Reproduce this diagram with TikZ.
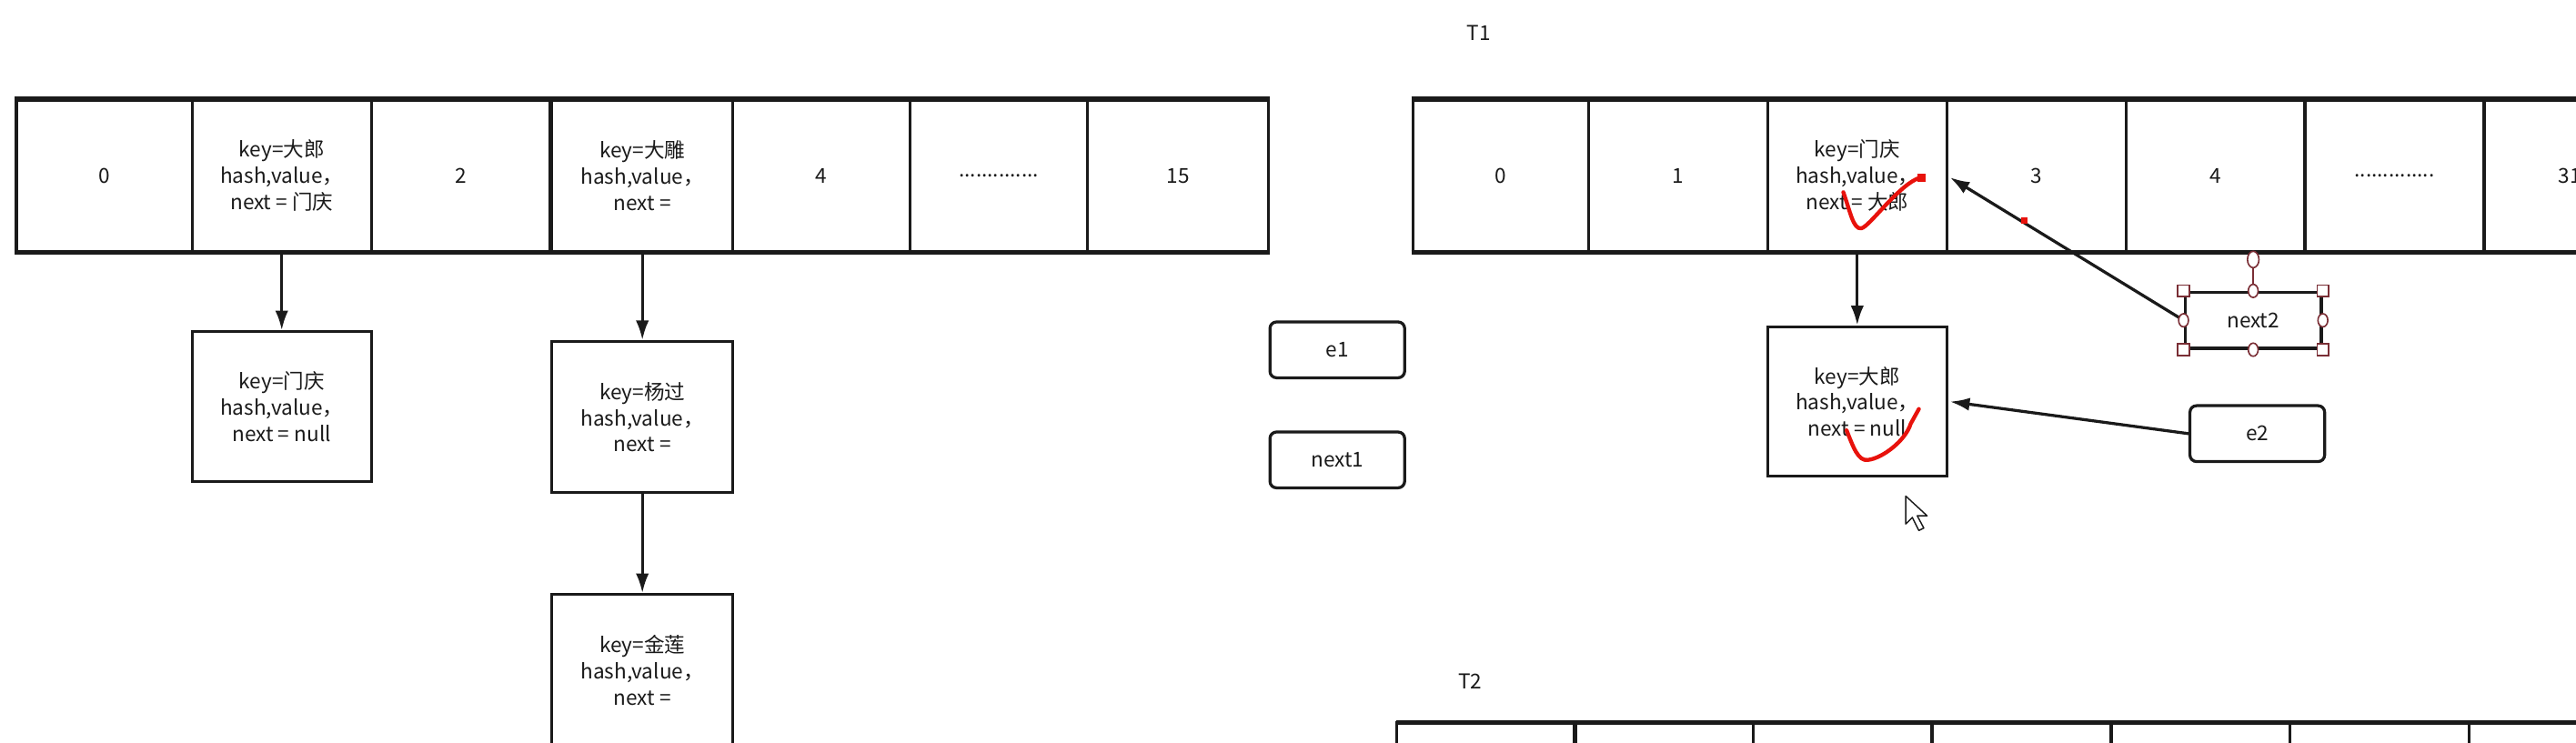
\documentclass[tikz,border=0pt]{standalone}
\usepackage{fontspec}
\setmainfont{Noto Sans CJK SC}
\usetikzlibrary{arrows.meta,calc,shapes.geometric}
\definecolor{ink}{HTML}{1A1A1A}
\definecolor{handlecol}{HTML}{7A2E35}
\definecolor{penred}{HTML}{E8120C}
\newcommand{\dtxt}{\fontsize{12.5}{16}\selectfont}
\begin{document}
\begin{tikzpicture}[x=1pt,y=-1pt,
  every node/.style={font=\dtxt, text=ink},
  cell/.style={draw=ink, line width=1.8pt, minimum width=#1, minimum height=92pt, inner sep=0pt, align=center},
  cell/.default=109pt,
  rbox/.style={draw=ink, line width=1.8pt, rounded corners=4pt, minimum width=82pt, minimum height=34pt, inner sep=0pt},
  link/.style={draw=ink, line width=1.8pt, -{Latex[length=12pt,width=8pt]}},
  rail/.style={draw=ink, line width=2.8pt},
  hsq/.style={draw=handlecol, fill=white, line width=0.9pt, rectangle, minimum size=7pt, inner sep=0pt},
  hci/.style={draw=handlecol, fill=white, line width=0.9pt, ellipse, minimum width=6pt, minimum height=8pt, inner sep=0pt},
  check/.style={draw=penred, line width=2.4pt, line cap=round, line join=round}]
\useasboundingbox (0,0) rectangle (1568,452);
\clip (0,0) rectangle (1568,452);
\fill[white] (0,0) rectangle (1568,452);

% ---------- left table (16 slots) ----------
\node[cell=107pt] (L0) at (63.5,107) {0};
\node[cell] (L1) at (171.5,107) {key=大郎\\hash,value，\\next = 门庆};
\node[cell] (L2) at (280.5,107) {2};
\node[cell=110pt] (L3) at (391,107) {key=大雕\\hash,value，\\next =};
\node[cell=108pt] (L4) at (500,107) {4};
\node[cell=108pt] (L5) at (608,107) {..............};
\node[cell=110pt] (L6) at (717,107) {15};
\draw[rail] (L0.north west) -- (L2.north east);
\draw[rail] (L0.south west) -- (L2.south east);
\draw[rail] (L3.north west) -- (L6.north east);
\draw[rail] (L3.south west) -- (L6.south east);

\node[cell, minimum height=91pt] (N1) at (171.5,247.5) {key=门庆\\hash,value，\\next = null};
\node[cell=110pt] (N3a) at (391,254) {key=杨过\\hash,value，\\next =};
\node[cell=110pt] (N3b) at (391,408) {key=金莲\\hash,value，\\next =};
\draw[link] (L1.south) -- (N1.north);
\draw[link] (L3.south) -- (N3a.north);
\draw[link] (N3a.south) -- (N3b.north);

\node[rbox] (e1) at (814,213) {e1};
\node[rbox] (next1) at (814,280) {next1};

% ---------- T1 ----------
\node (T1) at (900,20) {T1};
\node[cell=107pt] (R0) at (913.5,107) {0};
\node[cell] (R1) at (1021.5,107) {1};
\node[cell] (R2) at (1130.5,107) {key=门庆\\hash,value，\\next = 大郎};
\node[cell] (R3) at (1239.5,107) {3};
\node[cell] (R4) at (1348.5,107) {4};
\node[cell] (R5) at (1457.5,107) {..............};
\node[cell] (R6) at (1566.5,107) {};
\node[anchor=west, inner sep=0pt] (R6t) at (1557,107) {31};
\draw[rail] (R0.north west) -- (R6.north east);
\draw[rail] (R0.south west) -- (R6.south east);

\node[cell, minimum height=91pt] (RD) at (1130.5,244.5) {key=大郎\\hash,value，\\next = null};
\draw[link] (R2.south) -- (RD.north);

\node[draw=ink, line width=1.8pt, minimum width=83pt, minimum height=34pt, inner sep=0pt] (next2) at (1371.5,195) {next2};
\node[rbox] (e2) at (1374,264) {e2};
\draw[link] (next2.west) -- ($(R2.east)+(1,1)$);
\draw[link] (e2.west) -- ($(RD.east)+(1,0)$);
\fill[penred] (1230.5,132.5) rectangle (1234,136);

% selection handles of next2
\coordinate (rot) at (1371.5,158);
\draw[handlecol, line width=0.8pt] (rot) -- (next2.north);
\node[hci, minimum width=7pt, minimum height=10pt] (hr) at (rot) {};
\node[hsq] (h1) at (next2.north west) {};
\node[hsq] (h2) at (next2.north east) {};
\node[hsq] (h3) at (next2.south west) {};
\node[hsq] (h4) at (next2.south east) {};
\node[hci] (h5) at (next2.north) {};
\node[hci] (h6) at (next2.south) {};
\node[hci] (h7) at (next2.west) {};
\node[hci] (h8) at (next2.east) {};

% red check marks
\draw[check] (1122,117) .. controls (1126,128) and (1128,140) .. (1133,139)
  .. controls (1138,138) and (1156,112) .. (1169,108);
\fill[penred] (1167,106) rectangle (1172,111);
\draw[check] (1124,262) .. controls (1128,272) and (1131,281) .. (1137,280)
  .. controls (1146,279) and (1160,268) .. (1163,258) -- (1168,249);

% mouse cursor
\draw[ink, fill=white, line width=0.8pt, line join=round]
  (1160,302) -- (1160,319) -- (1164,315) -- (1168,323) -- (1171,321.5) -- (1167,314) -- (1173,314) -- cycle;

% ---------- T2 ----------
\node (T2) at (895,415) {T2};
\foreach \i/\x in {0/850,1/958,2/1067,3/1176,4/1285,5/1394,6/1503}{
  \draw[ink, line width=1.8pt] (\x,440) rectangle ++(109,92);
}
\draw[rail] (850,440) -- (1620,440);
\end{tikzpicture}
\end{document}
